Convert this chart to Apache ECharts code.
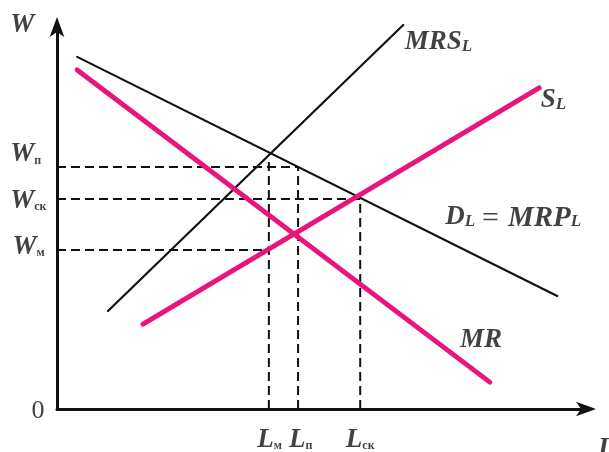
<!DOCTYPE html>
<html lang="ru">
<head>
    <meta charset="UTF-8">
    <title>Монопсония</title>
    <script src="https://cdn.jsdelivr.net/npm/echarts@6/dist/echarts.min.js"></script>
    <style>
        html, body { margin: 0; padding: 0; background: #fff; }
        #chart { width: 609px; height: 452px; }
    </style>
</head>
<body>
<div id="chart"></div>
<script>
    // кривые: начало и конец каждого отрезка
    var demandLine = [[3.8, 91.7], [94.2, 29.4]];     // D_L = MRP_L
    var mrLine = [[3.8, 88.3], [81.5, 7.0]];          // MR
    var mrsLine = [[9.6, 25.5], [65.2, 100.0]];       // MRS_L
    var supplyLine = [[16.2, 22.1], [90.8, 83.6]];    // S_L

    // уровни на осях
    var lValues = [39.9, 45.4, 57.1];   // L_м, L_п, L_ск
    var wValues = [63.0, 54.7, 41.4];   // W_п, W_ск, W_м
    var lmTop = 64.5;

    // подписи
    var labelTexts = [
        '{m|W}',
        '{m|W}{s|п}',
        '{m|W}{s|ск}',
        '{m|W}{s|м}',
        '{z|0}',
        '{m|L}{s|м}',
        '{m|L}{s|п}',
        '{m|L}{s|ск}',
        '{m|L}',
        '{m|MRS}{i|L}',
        '{m|S}{i|L}',
        '{m|D}{i|L}{e|=}{w|MRP}{i|L}',
        '{m|MR}'
    ];
    var labelAnchors = [
        [-8.8, 100.0],
        [-8.8, 66.4],
        [-8.8, 54.4],
        [-8.4, 42.4],
        [-4.8, -0.5],
        [37.7, -7.9],
        [43.7, -7.9],
        [54.4, -7.9],
        [101.9, -10.2],
        [65.5, 95.6],
        [91.1, 80.5],
        [73.1, 50.0],
        [75.9, 18.0]
    ];

    var chart = echarts.init(document.getElementById('chart'));

    var pink = '#e8157c';
    var ink = '#111';

    function dashed(data) {
        return {
            type: 'line',
            data: data,
            showSymbol: false,
            silent: true,
            lineStyle: { color: ink, width: 2, type: [9, 5] },
            z: 2
        };
    }

    function solid(data, color, width) {
        return {
            type: 'line',
            data: data,
            showSymbol: false,
            silent: true,
            lineStyle: { color: color, width: width, cap: 'round' },
            z: 3
        };
    }

    var series = [];
    // пунктир
    series.push(dashed([[0, wValues[0]], [lValues[1], wValues[0]]]));
    series.push(dashed([[0, wValues[1]], [lValues[2], wValues[1]]]));
    series.push(dashed([[0, wValues[2]], [lValues[0], wValues[2]]]));
    series.push(dashed([[lValues[0], 0], [lValues[0], lmTop]]));
    series.push(dashed([[lValues[1], 0], [lValues[1], wValues[0]]]));
    series.push(dashed([[lValues[2], 0], [lValues[2], wValues[1]]]));
    // кривые
    series.push(solid(demandLine, ink, 2.2));
    series.push(solid(mrsLine, ink, 2.2));
    series.push(solid(mrLine, pink, 5));
    series.push(solid(supplyLine, pink, 5));

    var font = 'Liberation Serif, Times New Roman, serif';
    series.push({
        type: 'scatter',
        symbolSize: 0,
        clip: false,
        silent: true,
        data: labelAnchors.map(function (p, i) {
            return { value: p, text: labelTexts[i] };
        }),
        label: {
            show: true,
            position: 'inside',
            align: 'left',
            verticalAlign: 'middle',
            color: ink,
            formatter: function (p) { return p.data.text; },
            rich: {
                m: { fontFamily: font, fontStyle: 'italic', fontWeight: 'bold', fontSize: 27, lineHeight: 26, verticalAlign: 'top', color: ink },
                w: { fontFamily: font, fontStyle: 'italic', fontWeight: 'bold', fontSize: 29, lineHeight: 26, verticalAlign: 'top', color: ink },
                e: { fontFamily: font, fontSize: 30, lineHeight: 26, verticalAlign: 'top', padding: [0, 9, 0, 7], color: ink },
                s: { fontFamily: font, fontWeight: 'bold', fontSize: 12, lineHeight: 14, verticalAlign: 'bottom', color: ink },
                i: { fontFamily: font, fontStyle: 'italic', fontWeight: 'bold', fontSize: 17, lineHeight: 16, verticalAlign: 'bottom', color: ink },
                z: { fontFamily: font, fontSize: 26, color: ink }
            }
        },
        z: 5
    });

    var axisCommon = {
        type: 'value',
        min: 0,
        max: 100,
        splitLine: { show: false },
        axisTick: { show: false },
        axisLabel: { show: false },
        axisLine: {
            show: true,
            symbol: ['none', 'arrow'],
            symbolSize: [11, 20],
            symbolOffset: [0, 8],
            lineStyle: { color: ink, width: 3 }
        }
    };

    chart.setOption({
        animation: false,
        backgroundColor: '#fff',
        grid: { left: 57, top: 25, width: 531, height: 384 },
        xAxis: axisCommon,
        yAxis: axisCommon,
        series: series
    });
</script>
</body>
</html>
